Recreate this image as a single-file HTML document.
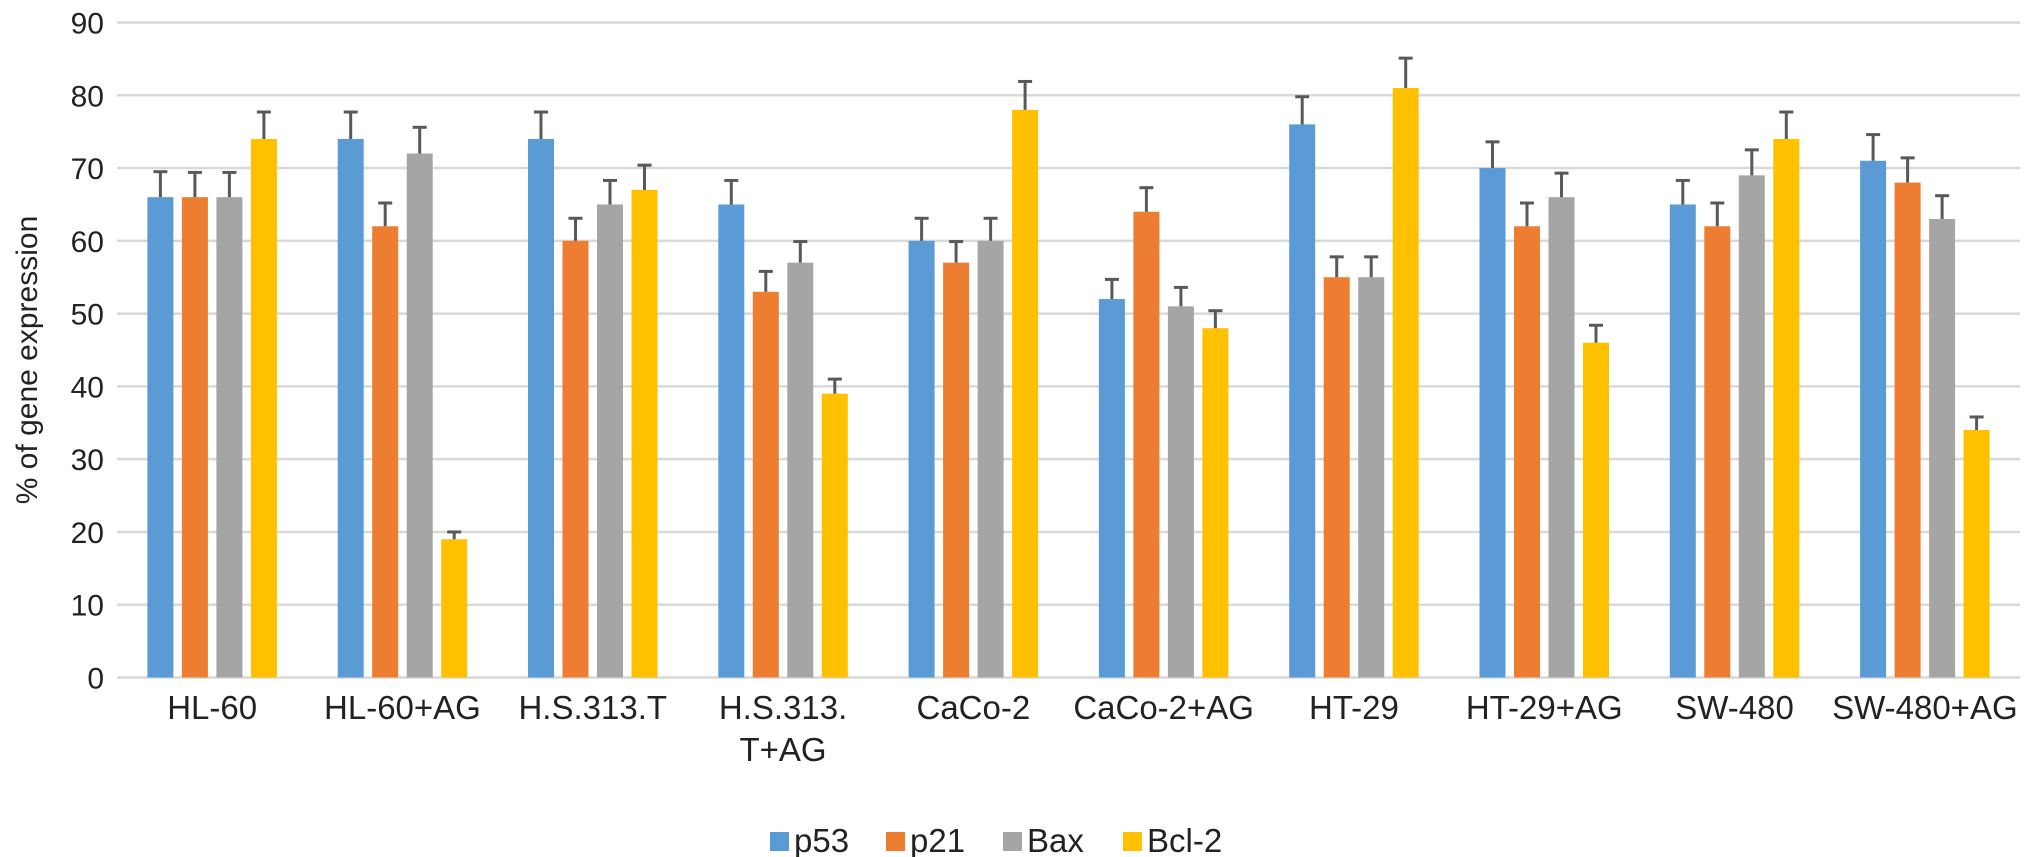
<!DOCTYPE html>
<html><head><meta charset="utf-8"><style>
html,body{margin:0;padding:0;background:#fff;}
svg{display:block;font-family:"Liberation Sans",Arial,sans-serif;}
</style></head><body>
<svg id="chart" width="2031" height="857" viewBox="0 0 2031 857" xmlns="http://www.w3.org/2000/svg">
<text x="0" y="0" transform="translate(37,360) rotate(-90)" text-anchor="middle" font-size="30" fill="#222">% of gene expression</text>
<g id="grid"></g><g id="bars"></g><g id="errs"></g><g id="xlabels"></g>
<g id="legend"></g>
</svg>
<script>
const categories = [["HL-60"],["HL-60+AG"],["H.S.313.T"],["H.S.313.","T+AG"],["CaCo-2"],["CaCo-2+AG"],["HT-29"],["HT-29+AG"],["SW-480"],["SW-480+AG"]];
const seriesNames = ["p53","p21","Bax","Bcl-2"];
const p53 = [66,74,74,65,60,52,76,70,65,71];
const p21 = [66,62,60,53,57,64,55,62,62,68];
const bax = [66,72,65,57,60,51,55,66,69,63];
const bcl2 = [74,19,67,39,78,48,81,46,74,34];
const p53Err = [3.5,3.7,3.7,3.3,3.1,2.7,3.8,3.6,3.3,3.6];
const p21Err = [3.4,3.2,3.1,2.8,2.9,3.3,2.8,3.2,3.2,3.4];
const baxErr = [3.4,3.6,3.3,2.9,3.1,2.6,2.8,3.3,3.5,3.2];
const bcl2Err = [3.7,1.0,3.4,2.0,3.9,2.4,4.1,2.4,3.7,1.8];
const yTicks = [0,10,20,30,40,50,60,70,80,90];

const colors = ["#5b9bd5","#ed7d31","#a5a5a5","#ffc000"];
const series = [p53,p21,bax,bcl2];
const errs = [p53Err,p21Err,baxErr,bcl2Err];
const NS = "http://www.w3.org/2000/svg";
const x0 = 117, x1 = 2020, yBase = 677.5, yTop = 22.5;
const groupW = (x1 - x0) / categories.length;
const y = v => yBase - (v / 90) * (yBase - yTop);
const barW = 26, barStep = 34.5;
const bx = (g, s) => x0 + g * groupW + groupW / 2 - 1.5 * barStep + s * barStep - barW / 2;
function mk(tag, attrs, parent) {
  const e = document.createElementNS(NS, tag);
  for (const k in attrs) e.setAttribute(k, attrs[k]);
  parent.appendChild(e); return e;
}
const grid = document.getElementById('grid');
yTicks.forEach(t => {
  const l = mk('line', {x1: x0, x2: x1, y1: y(t), y2: y(t), stroke: '#d9d9d9', 'stroke-width': 2.5}, grid);
  
  
  const tx = mk('text', {x: 104, y: y(t) + 11, 'text-anchor': 'end', 'font-size': 30, fill: '#222'}, grid);
  tx.textContent = t;
  
  
});
const bars = document.getElementById('bars'), eg = document.getElementById('errs');
categories.forEach((c, g) => {
  series.forEach((arr, s) => {
    const v = arr[g];
    const r = mk('rect', {x: bx(g, s), y: y(v), width: barW, height: yBase - y(v), fill: colors[s]}, bars);
    
    
    const cx = bx(g, s) + barW / 2, ye = y(v + errs[s][g]);
    const e1 = mk('line', {x1: cx, x2: cx, y1: y(v), y2: ye, stroke: '#595959', 'stroke-width': 3}, eg);
    
    
    const e2 = mk('line', {x1: cx - 7, x2: cx + 7, y1: ye, y2: ye, stroke: '#595959', 'stroke-width': 3}, eg);
    
    
  });
  const xl = document.getElementById('xlabels');
  c.forEach((line, i) => {
    const t = mk('text', {x: x0 + g * groupW + groupW / 2, y: 719 + i * 42, 'text-anchor': 'middle', 'font-size': 33, fill: '#222'}, xl);
    t.textContent = line;
    
    
  });
});
const lg = document.getElementById('legend');
const lx = [770, 886, 1003, 1123];
seriesNames.forEach((n, i) => {
  const r = mk('rect', {x: lx[i], y: 832, width: 19, height: 19, fill: colors[i]}, lg);
  
  
  const t = mk('text', {x: lx[i] + 24, y: 852, 'font-size': 33, fill: '#222'}, lg);
  t.textContent = n;
  
  
});
</script>
</body></html>
